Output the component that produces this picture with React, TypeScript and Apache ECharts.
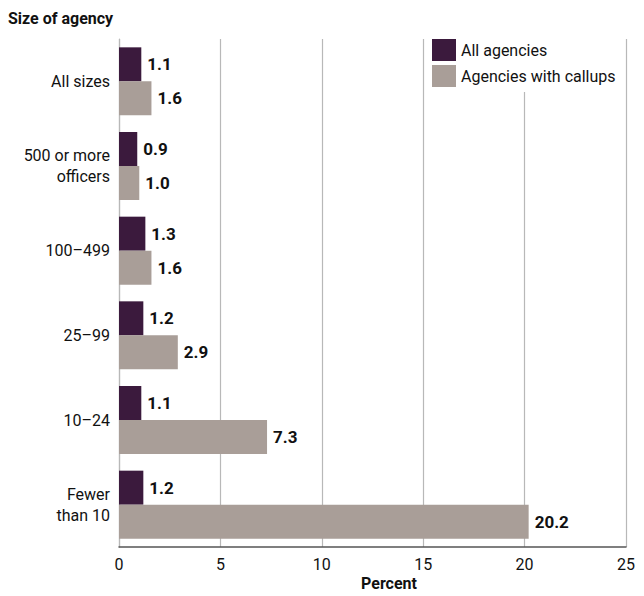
import React, { useEffect, useRef } from "react";
import * as echarts from "echarts";

const categories = ["All sizes", "500 or more\nofficers", "100–499", "25–99", "10–24", "Fewer\nthan 10"];
const allAgencies = [1.1, 0.9, 1.3, 1.2, 1.1, 1.2];
const withCallups = [1.6, 1.0, 1.6, 2.9, 7.3, 20.2];
const xTicks = [0, 5, 10, 15, 20, 25];
const seriesNames = ["All agencies", "Agencies with callups"];

const FONT = 'Roboto, "Noto Sans", sans-serif';

export default function App() {
  const ref = useRef<HTMLDivElement>(null);
  useEffect(() => {
    if (!ref.current) return;
    const chart = echarts.init(ref.current, null, { renderer: "svg" });
    const labelStyle = {
      show: true,
      position: "right" as const,
      distance: 6,
      fontFamily: FONT,
      fontWeight: "bold" as const,
      fontSize: 17,
      color: "#111",
      formatter: (p: any) => Number(p.value).toFixed(1),
    };
    chart.setOption({
      animation: false,
      textStyle: { fontFamily: FONT },
      grid: { left: 111, right: 18, top: 31, bottom: 49, containLabel: false },
      legend: {
        orient: "vertical",
        left: 418,
        top: 26,
        itemWidth: 24,
        itemHeight: 22,
        itemGap: 4,
        padding: [5, 6, 5, 6],
        backgroundColor: "#ffffff",
        data: seriesNames,
        icon: "rect",
        textStyle: { fontFamily: FONT, fontSize: 16, color: "#111" },
      },
      xAxis: {
        type: "value",
        min: xTicks[0],
        max: xTicks[xTicks.length - 1],
        interval: 5,
        axisLine: { show: true, lineStyle: { color: "#555", width: 1.5 } },
        axisTick: { show: false },
        axisLabel: { fontFamily: FONT, fontSize: 16, color: "#111", margin: 9 },
        splitLine: { show: true, lineStyle: { color: "#b8b8b8", width: 1.2 } },
      },
      yAxis: {
        type: "category",
        data: categories,
        inverse: true,
        axisLine: { show: true, lineStyle: { color: "#b8b8b8", width: 1.2 } },
        axisTick: { show: false },
        axisLabel: { fontFamily: FONT, fontSize: 16, color: "#111", margin: 9, lineHeight: 21 },
      },
      series: [
        {
          name: seriesNames[0],
          type: "bar",
          data: allAgencies,
          barWidth: 34,
          barGap: "0%",
          itemStyle: { color: "#3b1a3d" },
          label: labelStyle,
        },
        {
          name: seriesNames[1],
          type: "bar",
          data: withCallups,
          barWidth: 34,
          barGap: "0%",
          itemStyle: { color: "#a99e98" },
          label: labelStyle,
        },
      ],
      graphic: [
        {
          type: "text",
          left: 0,
          top: 2,
          style: { text: "Size of agency", fontFamily: FONT, fontWeight: "bold", fontSize: 16, fill: "#111" },
        },
        {
          type: "text",
          x: 381,
          y: 567,
          style: {
            text: "Percent",
            fontFamily: FONT,
            fontWeight: "bold",
            fontSize: 16,
            fill: "#111",
            textAlign: "center",
            textVerticalAlign: "top",
          },
        },
      ],
    });
    return () => chart.dispose();
  }, []);
  return <div ref={ref} style={{ width: 636, height: 588 }} />;
}
